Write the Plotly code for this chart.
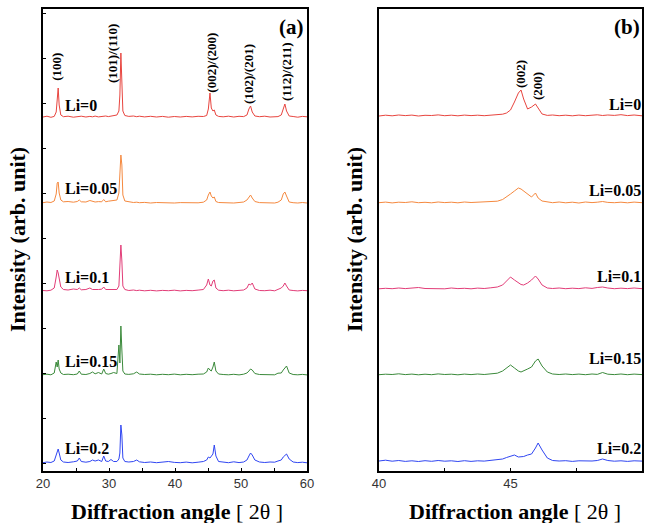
import plotly.graph_objects as go

# ---------------- data ----------------
SERIES = ["Li=0", "Li=0.05", "Li=0.1", "Li=0.15", "Li=0.2"]
COLORS = ["#e8453f", "#f5893f", "#e23d78", "#3b8a3b", "#3046f2"]

# panel (a): 2-theta grid 20..60
A_X = [20.0, 20.6, 21.2, 21.7, 22.0, 22.15, 22.3, 22.45, 22.7, 23.1,
       23.8, 24.6, 25.2, 25.5, 25.8, 26.5, 27.1, 27.5, 27.9, 28.4,
       28.9, 29.2, 29.5, 29.9, 30.3, 30.7, 31.2, 31.5, 31.65, 31.8,
       31.95, 32.1, 32.4, 33.0, 33.7, 34.2, 34.6, 35.4, 36.3, 37.2,
       38.1, 39.0, 39.9, 40.8, 41.7, 42.6, 43.5, 44.3, 44.8, 45.05,
       45.3, 45.5, 45.75, 45.95, 46.2, 46.6, 47.3, 48.1, 48.9, 49.7,
       50.4, 50.9, 51.2, 51.45, 51.7, 52.1, 52.8, 53.6, 54.4, 55.1,
       55.6, 56.1, 56.4, 56.65, 56.9, 57.3, 57.9, 58.6, 59.3, 60.0]

A_LI0 = [0, 0.8, -0.3, 0.6, 5, 18, 29, 12, 2, 0.3,
         0.8, -0.2, 0.5, 0.2, 0.8, 0, 0.6, 0.2, 0.9, 0.1,
         0.7, 0.5, 1.0, 0.4, 0.9, 1.2, 2, 6, 22, 64,
         30, 6, 1.5, 0.6, 1.0, 0.3, 0.8, 0.1, 0.7, 0,
         0.6, -0.2, 0.5, 0, 0.6, 0.1, 0.7, 0.5, 1.5, 8,
         24, 9, 6, 7, 2, 0.6, 0.2, 0.8, 0, 0.7,
         0.4, 2, 8, 11, 5, 1, 0.3, 0.8, 0, 0.6,
         0.4, 2, 9, 13, 6, 1, 0.5, -0.2, 0.6, 0.2]

A_LI005 = [0.3, 1.0, 0.5, 2, 9, 20, 21, 10, 3, 1.2,
           1.5, 0.8, 1.5, 3, 1.2, 1.0, 2.5, 1.5, 1.0, 1.4,
           1.2, 3.5, 1.2, 1.8, 2, 2.5, 3, 10, 34, 48,
           38, 8, 2, 1, 0.5, 0.8, 0.3, 0.6, 0, 0.5,
           0.2, 0.6, 0, 0.4, 0.1, 0.5, 0.2, 0.8, 3, 8,
           11, 7, 5, 6, 1.5, 0.5, 0.3, 0.6, 0, 0.5,
           1, 3, 6, 8, 5, 1.5, 0.4, 0.2, 0.6, 0,
           0.8, 3, 9, 11, 7, 1, 0.3, 0, 0.5, 0]

A_LI01 = [0.5, 0.2, 0.8, 3, 14, 21, 18, 12, 4, 1.5,
          1, 2, 1.5, 3, 1.2, 1.5, 3, 1.5, 1.2, 1.5,
          1.8, 4, 1.5, 1.5, 2.2, 1.5, 1.5, 5, 22, 46,
          30, 5, 1.5, 0.5, 1, 0.4, 0.8, 0.2, 0.7, 0.1,
          0.6, 0.3, 0.8, 0.1, 0.6, 0.3, 0.9, 1.5, 6, 12,
          6, 5, 10, 11, 3, 0.8, 0.3, 0.8, 0.2, 0.6,
          1, 3, 7, 6, 8, 2, 0.5, 0.3, 0.8, 0.2,
          1.5, 3, 5, 8, 5, 1, 0.5, 0.1, 0.6, 0.3]

A_LI015 = [0.3, 0.8, 0.2, 2, 13, 8, 15, 6, 2, 0.5,
           0.8, 0.3, 1, 4, 0.8, 0.5, 1.5, 3, 1.2, 2.5,
           1, 6, 1.5, 0.8, 1.5, 2.5, 1.5, 30, 12, 49,
           25, 4, 1, 0.6, 1.2, 3, 1, 0.5, 0.8, 0.2,
           0.7, 0.3, 0.9, 0.2, 0.7, 0.3, 0.8, 1, 3, 7,
           5, 4, 8, 13, 4, 1, 0.5, 0.2, 0.7, 0.1,
           0.8, 2, 4, 6, 5, 1.5, 0.5, 0.3, 0.8, 0.2,
           1.8, 2, 5, 7, 9, 2, 0.5, 0.2, 0.6, 0.1]

A_LI02 = [0.3, 1, 0.5, 2, 8, 12, 14, 10, 3, 1,
          0.5, 1.2, 2, 5, 1.5, 0.8, 1.5, 3, 2, 3,
          1.5, 7, 2, 1.5, 3.5, 1.5, 1.5, 4, 10, 38,
          28, 5, 1.5, 1, 1.5, 3, 1.2, 0.5, 1, 0.3,
          0.8, 1.5, 0.6, 0.3, 0.9, 0.2, 0.8, 1.5, 3, 6,
          5, 7, 9, 18, 7, 1.5, 0.8, 0.3, 1.2, 0.4,
          1, 3, 7, 10, 8, 3, 1, 0.5, 1, 0.8,
          2, 3, 6, 8, 9, 4, 1, 0.4, 0.8, 0.2]

# panel (b): 2-theta grid 40..50
B_X = [40.0, 40.25, 40.5, 40.75, 41.0, 41.25, 41.5, 41.75, 42.0, 42.25,
       42.5, 42.75, 43.0, 43.25, 43.5, 43.75, 44.0, 44.25, 44.5, 44.7,
       44.85, 45.0, 45.15, 45.3, 45.4, 45.5, 45.65, 45.8, 45.95, 46.05,
       46.2, 46.4, 46.6, 46.85, 47.1, 47.35, 47.6, 47.85, 48.1, 48.3,
       48.5, 48.7, 48.95, 49.2, 49.45, 49.7, 50.0]

B_LI0 = [0, 0.8, 0.2, 1, 0.4, 0.9, 0, 0.7, 0.5, 1.1,
         0.3, 0.8, 0.2, 0.9, 0.4, 0.8, 0.3, 1.0, 1.2, 1.8,
         3, 6, 14, 23, 26, 17, 7, 9, 12, 8,
         2, 0.6, 1, 0.3, 0.8, 0.2, 0.9, 0.3, 0.8, 1.2,
         0.5, 1, 0.6, 1.3, 0.4, 1.0, 0.2]

B_LI005 = [0.3, 0.9, 0.1, 0.8, 0.5, 1.2, 0.3, 0.7, 0.2, 1,
           0.4, 0.8, 0.2, 1, 0.5, 0.9, 0.6, 1.2, 1.8, 3.5,
           6, 9, 12, 15, 14, 12, 9, 6, 10, 5,
           2, 0.8, 0.3, 1, 0.2, 0.8, 0, 1, 0.4, 0.8,
           1.5, 0.6, 0.3, 0.8, 0.2, 0.9, 0.3]

B_LI01 = [0.2, 0.7, 0.3, 1, 0.4, 0.6, 1.5, 0.5, 0.3, 0.8,
          0.2, 1, 0.4, 0.7, 0.2, 0.9, 0.5, 1.2, 2, 4,
          8, 12, 9, 6, 4.5, 4, 6, 9, 13, 10,
          4, 1, 0.5, 1, 0.3, 0.8, 0.4, 1.2, 0.6, 1.5,
          2, 1, 0.3, 0.8, 0.4, 1, 0.3]

B_LI015 = [0.3, 0.8, 0.5, 1.2, 0.4, 0.9, 0.2, 0.8, 0.3, 1.1,
           0.5, 0.8, 0.2, 0.9, 0.4, 1, 0.5, 1, 1.8, 4,
           7, 10, 7, 4, 3, 4, 6, 8, 14, 16,
           9, 3, 1, 0.5, 1, 0.4, 0.9, 0.3, 1, 0.6,
           2.5, 0.8, 0.4, 1, 0.3, 0.9, 0.4]

B_LI02 = [1, 1.8, 0.8, 1.5, 0.6, 1.2, 0.5, 1.3, 0.7, 1.5,
          0.8, 1.2, 0.5, 1.3, 0.6, 1.2, 0.9, 1.5, 2, 3,
          4.5, 6, 7, 5, 5, 5.5, 7, 8, 14, 19,
          12, 4, 1.5, 1, 1.3, 0.6, 1.2, 0.8, 1, 1.5,
          3, 1.5, 0.8, 1.2, 0.6, 1.2, 0.9]

A_DATA = [A_LI0, A_LI005, A_LI01, A_LI015, A_LI02]
B_DATA = [B_LI0, B_LI005, B_LI01, B_LI015, B_LI02]

A_PEAK_LABELS = ["(100)", "(101)/(110)", "(002)/(200)", "(102)/(201)", "(112)/(211)"]
A_PEAK_POS = [22.1, 30.6, 45.4, 51.2, 56.8]
B_PEAK_LABELS = ["(002)", "(200)"]
B_PEAK_POS = [45.4, 46.05]

# ---------------- layout constants ----------------
W, H = 648, 523
A_OFFSETS = [354, 268, 180, 96, 8]
B_OFFSETS = [355, 268, 182, 96, 9]
Y_TOP = 462
SERIF = "Times New Roman, Liberation Serif, serif"
SANS = "Arial, Liberation Sans, sans-serif"


def px(x):
    return x / W


def py(y):
    return 1 - y / H


fig = go.Figure()

for name, color, ys, off in zip(SERIES, COLORS, A_DATA, A_OFFSETS):
    fig.add_trace(go.Scatter(x=A_X, y=[v + off for v in ys], mode="lines",
                             line=dict(color=color, width=1), name=name,
                             xaxis="x", yaxis="y", showlegend=False))
for name, color, ys, off in zip(SERIES, COLORS, B_DATA, B_OFFSETS):
    fig.add_trace(go.Scatter(x=B_X, y=[v + off for v in ys], mode="lines",
                             line=dict(color=color, width=1), name=name,
                             xaxis="x2", yaxis="y2", showlegend=False))

axis_common = dict(showline=True, linecolor="black", linewidth=1.5, mirror=True,
                   showgrid=False, zeroline=False, ticks="inside",
                   tickcolor="black", ticklen=3, tickwidth=1, automargin=False)

fig.update_layout(
    width=W, height=H, margin=dict(l=0, r=0, t=0, b=0, autoexpand=False),
    paper_bgcolor="white", plot_bgcolor="white",
    xaxis=dict(domain=[px(43), px(307)], range=[20, 60], anchor="y",
               tickmode="array", tickvals=[20, 25, 30, 35, 40, 45, 50, 55, 60],
               ticktext=["20", "", "30", "", "40", "", "50", "", "60"],
               tickfont=dict(family=SANS, size=13, color="#333"), **axis_common),
    yaxis=dict(domain=[py(471), py(9)], range=[0, Y_TOP], anchor="x",
               tick0=8, dtick=45, showticklabels=False, **axis_common),
    xaxis2=dict(domain=[px(379), px(642)], range=[40, 50], anchor="y2",
                tickmode="array", tickvals=[40, 42.5, 45, 47.5, 50],
                ticktext=["40", "", "45", "", "50"],
                tickfont=dict(family=SANS, size=13, color="#333"), **axis_common),
    yaxis2=dict(domain=[py(471), py(9)], range=[0, Y_TOP], anchor="x2",
                showticklabels=False, **{**axis_common, "ticks": ""}),
)


def note(text, x, y, size, xanchor="center", xref="paper", angle=0, bold=True):
    return dict(xref=xref, yref="paper", x=x, y=y, xanchor=xanchor, yanchor="middle",
                text=("<b>%s</b>" % text) if bold else text, showarrow=False,
                textangle=angle, font=dict(family=SERIF, size=size, color="black"))


ann = []
a_label_y = [105, 188, 277, 361, 448]
for name, yy in zip(SERIES, a_label_y):
    ann.append(note(name, px(63), py(yy), 16, xanchor="left"))
b_label_y = [104, 190, 276, 358, 448]
for name, yy in zip(SERIES, b_label_y):
    ann.append(note(name, px(643), py(yy), 16, xanchor="right"))
a_peak_y = [67, 53, 63, 74, 71]
for lab, xx, yy in zip(A_PEAK_LABELS, A_PEAK_POS, a_peak_y):
    ann.append(note(lab, xx, py(yy), 13, xref="x", angle=-90))
b_peak_y = [74, 86]
for lab, xx, yy in zip(B_PEAK_LABELS, B_PEAK_POS, b_peak_y):
    ann.append(note(lab, xx, py(yy), 13, xref="x2", angle=-90))
ann.append(note("(a)", px(306), py(27), 21, xanchor="right"))
ann.append(note("(b)", px(642), py(27), 21, xanchor="right"))
for xc in [177, 515]:
    ann.append(note("<b>Diffraction angle</b> [ 2θ ]", px(xc), py(511), 22, bold=False))
for xc in [18, 355]:
    ann.append(note("Intensity (arb. unit)", px(xc), py(240), 22, angle=-90))

fig.update_layout(annotations=ann)
fig.write_html("out.html")
